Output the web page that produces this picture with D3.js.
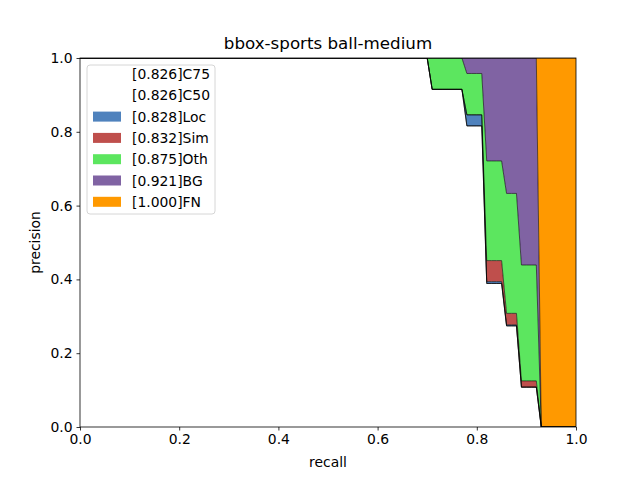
<!DOCTYPE html>
<html><head><meta charset="utf-8">
<script src="https://cdn.jsdelivr.net/npm/d3@7"></script>
<style>body{margin:0;background:#fff}text{font-family:"DejaVu Sans",sans-serif}</style>
</head><body><svg id="c" width="640" height="480"></svg>
<script>
// precision values at recall 0.70..0.93 (step 0.01); 1 before, 0 after
const recallStart = 0.70;
const C75 = [1,.915,.915,.915,.915,.915,.915,.915,.816,.816,.816,.816,.389,.389,.389,.389,.274,.274,.274,.108,.108,.108,.108,0];
const C50 = [1,.915,.915,.915,.915,.915,.915,.915,.816,.816,.816,.816,.389,.389,.389,.389,.274,.274,.274,.108,.108,.108,.108,0];
const Loc = [1,.915,.915,.915,.915,.915,.915,.915,.846,.846,.846,.846,.394,.394,.394,.394,.277,.277,.277,.108,.108,.108,.108,0];
const Sim = [1,.915,.915,.915,.915,.915,.915,.915,.846,.846,.846,.846,.451,.451,.451,.451,.308,.308,.308,.125,.125,.125,.125,0];
const Oth = [1,1,1,1,1,1,1,1,.958,.958,.958,.958,.721,.721,.721,.721,.633,.633,.633,.439,.439,.439,.439,0];
const BG  = [1,1,1,1,1,1,1,1,1,1,1,1,1,1,1,1,1,1,1,1,1,1,1,0];
const FN  = null; // precision 1 everywhere
const labels = ["[0.826]C75","[0.826]C50","[0.828]Loc","[0.832]Sim","[0.875]Oth","[0.921]BG","[1.000]FN"];
const colors = ["#ffffff","#ffffff","#4f82bd","#bf4f4c","#5ce65f","#8063a3","#ff9900"];
const ticks = [0,0.2,0.4,0.6,0.8,1.0];

const rs = d3.range(101).map(i=>i/100);
function full(arr){
  return rs.map((r,i)=>{
    if(arr===null) return 1;
    const k=i-70;
    if(k<0) return 1;
    if(k>=arr.length) return 0;
    return arr[k];
  });
}
const curves=[C75,C50,Loc,Sim,Oth,BG,FN].map(full);
const svg=d3.select("#c");
const L=80,R=576,T=58,B=427;
const x=d3.scaleLinear().domain([0,1]).range([L,R]);
const y=d3.scaleLinear().domain([0,1]).range([B,T]);
svg.append("clipPath").attr("id","cp").append("rect").attr("x",L).attr("y",T).attr("width",R-L).attr("height",B-T);
const g=svg.append("g").attr("clip-path","url(#cp)");
let prev=rs.map(()=>0);
curves.forEach((c,k)=>{
  const lo=prev;
  const area=d3.area().x((d,i)=>x(rs[i])).y0((d,i)=>y(lo[i])).y1((d,i)=>y(c[i]));
  g.append("path").attr("d",area(c)).attr("fill",colors[k]).attr("stroke","none");
  prev=c;
});
curves.forEach(c=>{
  const line=d3.line().x((d,i)=>x(rs[i])).y(d=>y(d));
  g.append("path").attr("d",line(c)).attr("fill","none").attr("stroke","#000").attr("stroke-width",0.6);
});
const xa=svg.append("g").attr("transform",`translate(0,${B})`).call(d3.axisBottom(x).tickValues(ticks).tickFormat(d3.format(".1f")).tickSize(3.5).tickPadding(4));
const ya=svg.append("g").attr("transform",`translate(${L},0)`).call(d3.axisLeft(y).tickValues(ticks).tickFormat(d3.format(".1f")).tickSize(3.5).tickPadding(4));
[xa,ya].forEach(a=>{a.select(".domain").remove();a.selectAll("text").attr("font-size",13.9).attr("fill","#000").style("font-family","DejaVu Sans");a.selectAll("line").attr("stroke","#000").attr("stroke-width",0.8);});
svg.append("rect").attr("x",L).attr("y",T).attr("width",R-L).attr("height",B-T).attr("fill","none").attr("stroke","#000").attr("stroke-width",0.8);
svg.append("text").attr("x",(L+R)/2).attr("y",49).attr("text-anchor","middle").attr("font-size",16.7).text("bbox-sports ball-medium");
svg.append("text").attr("x",(L+R)/2).attr("y",467).attr("text-anchor","middle").attr("font-size",13.9).text("recall");
svg.append("text").attr("transform",`translate(40,${(T+B)/2}) rotate(-90)`).attr("text-anchor","middle").attr("font-size",13.9).text("precision");
const lg=svg.append("g");
lg.append("rect").attr("x",87).attr("y",65).attr("width",128).attr("height",149).attr("rx",3).attr("fill","#fff").attr("fill-opacity",0.8).attr("stroke","#ccc").attr("stroke-width",0.8);
labels.forEach((l,i)=>{
  const yy=74+i*21.3;
  lg.append("rect").attr("x",93).attr("y",yy-5).attr("width",28).attr("height",10).attr("fill",colors[i]);
  lg.append("text").attr("x",132).attr("y",yy+5).attr("font-size",13.9).text(l);
});
</script></body></html>
